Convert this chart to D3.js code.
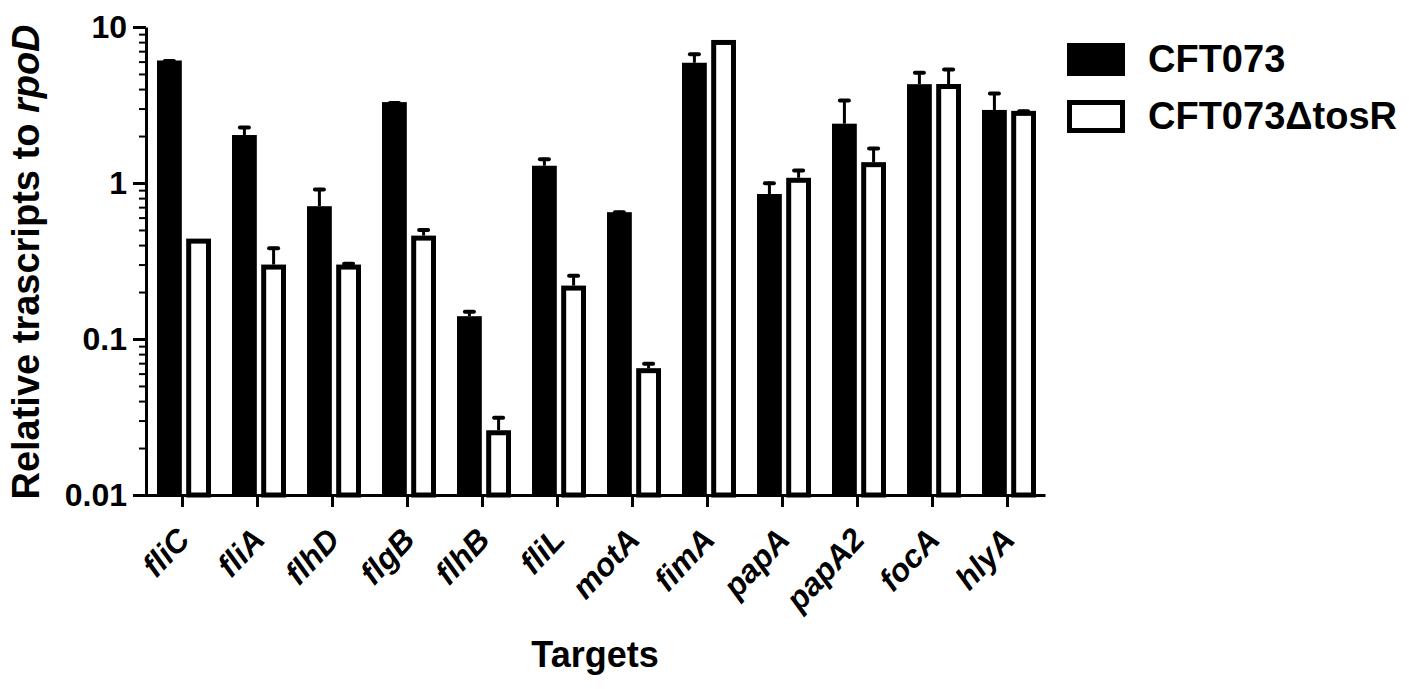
<!DOCTYPE html>
<html>
<head>
<meta charset="utf-8">
<script src="https://cdn.jsdelivr.net/npm/d3@7"></script>
<style>
  html, body { margin: 0; padding: 0; background: #fff; }
  svg { display: block; }
  text { font-family: "Liberation Sans", Arial, Helvetica, sans-serif; font-weight: bold; fill: #000; }
</style>
</head>
<body>
<svg id="chart" width="1409" height="689"></svg>
<script>
// ---- data ----
const categories = ["fliC", "fliA", "flhD", "flgB", "flhB", "fliL", "motA", "fimA", "papA", "papA2", "focA", "hlyA"];
const seriesNames = ["CFT073", "CFT073\u0394tosR"];
const wildTypeMean = [6.1, 2.03, 0.71, 3.3, 0.14, 1.29, 0.65, 5.9, 0.85, 2.4, 4.3, 2.94];
const wildTypeSD   = [0.1, 0.29, 0.22, 0.03, 0.013, 0.16, 0.015, 0.93, 0.17, 1.05, 0.91, 0.89];
const mutantMean   = [0.44, 0.30, 0.30, 0.46, 0.026, 0.22, 0.065, 8.26, 1.08, 1.36, 4.31, 2.9];
const mutantSD     = [0.0, 0.09, 0.01, 0.05, 0.006, 0.04, 0.006, 0.0, 0.15, 0.34, 1.14, 0.05];
const yTickValues = [0.01, 0.1, 1, 10];
const yTickLabels = ["0.01", "0.1", "1", "10"];
const yTitle = "Relative trascripts to ";
const yTitleItalic = "rpoD";
const xTitle = "Targets";

// ---- layout ----
const svg = d3.select("#chart");
const plotLeft = 146, plotRight = 1045, plotTop = 27, plotBottom = 495;

const x0 = d3.scaleBand().domain(categories).range([plotLeft - 1, plotRight]).padding(0);
const x1 = d3.scaleBand().domain(seriesNames).range([12, 66]).paddingInner(0.15).paddingOuter(0);
const y = d3.scaleLog().domain([0.01, 10]).range([plotBottom, plotTop]);

const rows = categories.map((c, i) => ({
  cat: c,
  vals: [
    { s: seriesNames[0], v: wildTypeMean[i], e: wildTypeSD[i] },
    { s: seriesNames[1], v: mutantMean[i], e: mutantSD[i] }
  ]
}));

const g = svg.append("g");

// error bars (upper SD only)
const bw = x1.bandwidth();
rows.forEach(r => {
  r.vals.forEach(d => {
    if (d.e <= 0) return;
    const cx = x0(r.cat) + x1(d.s) + bw / 2;
    const yTop = y(d.v + d.e);
    g.append("line").attr("x1", cx).attr("x2", cx)
      .attr("y1", y(d.v)).attr("y2", yTop)
      .attr("stroke", "#000").attr("stroke-width", 3);
    g.append("line").attr("x1", cx - 4.5).attr("x2", cx + 4.5)
      .attr("y1", yTop + 1.5).attr("y2", yTop + 1.5)
      .attr("stroke", "#000").attr("stroke-width", 4).attr("stroke-linecap", "round");
  });
});

// bars
const sw = 5;
rows.forEach(r => {
  r.vals.forEach((d, j) => {
    const bx = x0(r.cat) + x1(d.s);
    const by = y(d.v);
    if (j === 0) {
      g.append("rect").attr("x", bx).attr("y", by)
        .attr("width", bw).attr("height", plotBottom - by)
        .attr("fill", "#000");
    } else {
      g.append("rect").attr("x", bx + sw / 2).attr("y", by + sw / 2)
        .attr("width", bw - sw).attr("height", plotBottom - by - sw / 2)
        .attr("fill", "#fff").attr("stroke", "#000").attr("stroke-width", sw);
    }
  });
});

// y axis
const minorTicks = y.ticks().filter(t => !yTickValues.includes(t));
const yMinor = d3.axisLeft(y).tickValues(minorTicks).tickSize(7).tickFormat("").tickSizeOuter(0);
const gyMinor = svg.append("g").attr("transform", `translate(${plotLeft},0)`).call(yMinor);
gyMinor.select(".domain").remove();
gyMinor.selectAll(".tick line").attr("stroke", "#000").attr("stroke-width", 2);

const yAxis = d3.axisLeft(y).tickValues(yTickValues)
  .tickFormat((d, i) => yTickLabels[i]).tickSize(13).tickSizeOuter(0).tickPadding(6);
const gy = svg.append("g").attr("transform", `translate(${plotLeft},0)`).call(yAxis);
gy.select(".domain").attr("stroke", "#000").attr("stroke-width", 3);
gy.selectAll(".tick line").attr("stroke", "#000").attr("stroke-width", 3);
gy.selectAll(".tick text").attr("font-size", 32).attr("font-family", "Liberation Sans, Arial, sans-serif")
  .attr("font-weight", "bold").attr("fill", "#000");

// x axis
const xAxis = d3.axisBottom(x0).tickSize(12).tickSizeOuter(0).tickFormat("");
const gx = svg.append("g").attr("transform", `translate(0,${plotBottom})`).call(xAxis);
gx.select(".domain").attr("stroke", "#000").attr("stroke-width", 3);
gx.selectAll(".tick line").attr("stroke", "#000").attr("stroke-width", 3);

// x labels
svg.append("g").selectAll("text").data(categories).join("text")
  .attr("transform", d => `translate(${x0(d) + x0.bandwidth() / 2 + 9},${plotBottom + 46}) rotate(-47)`)
  .attr("text-anchor", "end")
  .attr("font-size", 32)
  .attr("font-style", "italic")
  .text(d => d);

// axis titles
const yt = svg.append("text")
  .attr("transform", `translate(39,${(plotTop + plotBottom) / 2 + 1}) rotate(-90)`)
  .attr("text-anchor", "middle")
  .attr("font-size", 38);
yt.append("tspan").text(yTitle);
yt.append("tspan").attr("font-style", "italic").text(yTitleItalic);

svg.append("text")
  .attr("x", 595).attr("y", 667)
  .attr("text-anchor", "middle")
  .attr("font-size", 36)
  .text(xTitle);

// legend
const legend = svg.append("g").attr("transform", "translate(1067,43)");
seriesNames.forEach((s, i) => {
  const ly = i * 57;
  if (i === 0) {
    legend.append("rect").attr("x", 0).attr("y", ly).attr("width", 58).attr("height", 33).attr("fill", "#000");
  } else {
    legend.append("rect").attr("x", 2.5).attr("y", ly + 2.5).attr("width", 53).attr("height", 28)
      .attr("fill", "#fff").attr("stroke", "#000").attr("stroke-width", 5);
  }
  legend.append("text").attr("x", 81).attr("y", ly + 29).attr("font-size", 38).text(s);
});
</script>
</body>
</html>
